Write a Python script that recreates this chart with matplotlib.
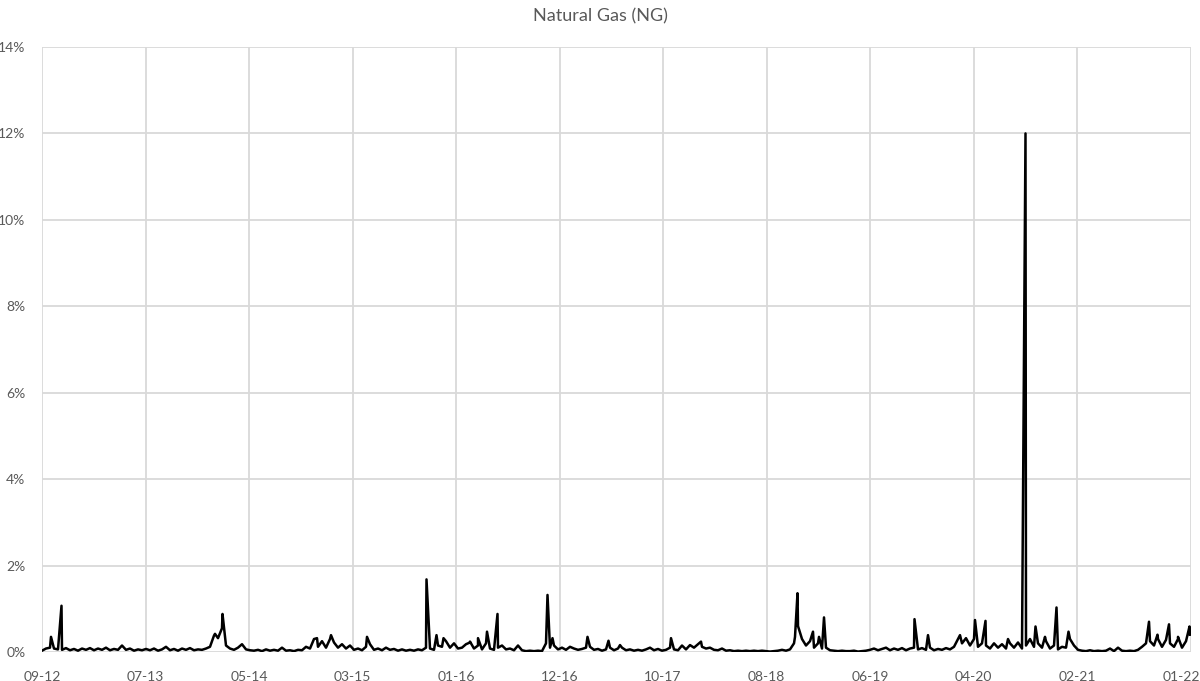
import numpy as np
import matplotlib
matplotlib.use('Agg')
import matplotlib.pyplot as plt
import matplotlib.transforms as mtransforms

plt.rcParams['font.family'] = ['Lato', 'DejaVu Sans']

# x axis: trading-day index, labels every 207 days (category axis, like the Excel original)
tick_labels = ['09-12', '07-13', '05-14', '03-15', '01-16', '12-16',
               '10-17', '08-18', '06-19', '04-20', '02-21', '01-22']
tick_days = [0, 207, 414, 621, 828, 1035, 1242, 1449, 1656, 1863, 2070, 2298]

# background level, one reading every 8 trading days (%)
base_step = 8
base_pct = [
    0.03, 0.08, 0.10, 0.08, 0.06, 0.05, 0.09, 0.04, 0.07, 0.03,
    0.08, 0.05, 0.09, 0.04, 0.08, 0.05, 0.10, 0.04, 0.07, 0.05,
    0.15, 0.05, 0.08, 0.03, 0.06, 0.04, 0.07, 0.04, 0.08, 0.03,
    0.06, 0.12, 0.04, 0.07, 0.03, 0.08, 0.05, 0.09, 0.04, 0.06,
    0.05, 0.08, 0.12, 0.38, 0.32, 0.55, 0.15, 0.08, 0.05, 0.10,
    0.18, 0.06, 0.04, 0.03, 0.05, 0.02, 0.06, 0.03, 0.05, 0.03,
    0.10, 0.03, 0.04, 0.02, 0.05, 0.04, 0.12, 0.08, 0.30, 0.12,
    0.25, 0.10, 0.30, 0.22, 0.10, 0.18, 0.08, 0.15, 0.05, 0.08,
    0.04, 0.12, 0.18, 0.05, 0.08, 0.04, 0.10, 0.05, 0.07, 0.03,
    0.06, 0.03, 0.05, 0.03, 0.06, 0.04, 0.10, 0.08, 0.05, 0.15,
    0.12, 0.25, 0.10, 0.20, 0.08, 0.10, 0.18, 0.22, 0.08, 0.15,
    0.06, 0.20, 0.08, 0.05, 0.10, 0.15, 0.06, 0.08, 0.04, 0.15,
    0.04, 0.02, 0.03, 0.02, 0.03, 0.02, 0.20, 0.10, 0.15, 0.06,
    0.10, 0.05, 0.12, 0.08, 0.05, 0.07, 0.10, 0.12, 0.05, 0.07,
    0.03, 0.06, 0.10, 0.04, 0.08, 0.10, 0.04, 0.06, 0.03, 0.05,
    0.03, 0.06, 0.10, 0.04, 0.07, 0.03, 0.05, 0.10, 0.06, 0.04,
    0.15, 0.06, 0.16, 0.10, 0.18, 0.12, 0.08, 0.10, 0.05, 0.04,
    0.08, 0.03, 0.04, 0.02, 0.03, 0.02, 0.03, 0.02, 0.03, 0.02,
    0.03, 0.02, 0.01, 0.02, 0.03, 0.05, 0.03, 0.06, 0.20, 0.60,
    0.30, 0.15, 0.25, 0.10, 0.20, 0.08, 0.10, 0.04, 0.03, 0.02,
    0.03, 0.02, 0.02, 0.03, 0.01, 0.02, 0.03, 0.05, 0.08, 0.04,
    0.07, 0.10, 0.04, 0.08, 0.05, 0.09, 0.04, 0.08, 0.10, 0.06,
    0.09, 0.05, 0.10, 0.04, 0.07, 0.05, 0.09, 0.06, 0.12, 0.30,
    0.20, 0.32, 0.15, 0.30, 0.12, 0.20, 0.15, 0.08, 0.20, 0.10,
    0.18, 0.08, 0.20, 0.10, 0.22, 0.08, 0.15, 0.30, 0.12, 0.20,
    0.10, 0.25, 0.08, 0.15, 0.06, 0.12, 0.10, 0.30, 0.15, 0.05,
    0.03, 0.02, 0.04, 0.02, 0.03, 0.02, 0.03, 0.08, 0.02, 0.10,
    0.03, 0.02, 0.03, 0.02, 0.05, 0.12, 0.20, 0.25, 0.15, 0.30,
    0.12, 0.28, 0.20, 0.12, 0.30, 0.10, 0.25, 0.40,
]

# single-day jumps (trading-day index, %)
spike_day = [18, 39, 346, 361, 550, 578, 650, 769, 789, 803,
             856, 872, 890, 911, 1011, 1021, 1091, 1133, 1156, 1258,
             1318, 1506, 1511, 1542, 1554, 1564, 1745, 1772, 1836, 1866,
             1887, 1932, 1967, 1987, 2006, 2029, 2053, 2214, 2231, 2254,
             2272, 2295]
spike_pct = [0.35, 1.07, 0.42, 0.88, 0.32, 0.39, 0.35, 1.68, 0.39, 0.32,
             0.24, 0.32, 0.47, 0.88, 1.32, 0.32, 0.35, 0.26, 0.16, 0.32,
             0.24, 0.35, 1.36, 0.47, 0.35, 0.80, 0.76, 0.39, 0.39, 0.74,
             0.72, 0.30, 12.0, 0.59, 0.35, 1.03, 0.47, 0.70, 0.40, 0.64,
             0.35, 0.59]

base_day = np.arange(len(base_pct)) * base_step
day = np.concatenate([base_day, spike_day])
pct = np.concatenate([base_pct, spike_pct])
order = np.argsort(day, kind='stable')
day = day[order]
pct = pct[order]

fig = plt.figure(figsize=(12, 6.81), dpi=100)
ax = fig.add_axes([0.035, 0.0426, 0.9575, 0.8884])

ax.plot(day, pct, color='black', linewidth=1.8, zorder=3)

ax.set_xlim(0, 2298)
ax.set_ylim(0, 14)
ax.set_yticks(range(0, 15, 2))
ax.set_yticklabels([f'{v}%' for v in range(0, 15, 2)])
ax.set_xticks(tick_days)
ax.set_xticklabels(tick_labels)

ax.grid(True, color='#d9d9d9', linewidth=1.3)
ax.set_axisbelow(True)
for s in ax.spines.values():
    s.set_visible(False)
ax.tick_params(axis='both', length=0, colors='#595959', labelsize=10)
ax.tick_params(axis='x', pad=14)
ax.tick_params(axis='y', pad=12)

# last label sits a bit inside the right edge
last = ax.get_xticklabels()[-1]
last.set_transform(last.get_transform() + mtransforms.ScaledTranslation(-0.10, 0, fig.dpi_scale_trans))

fig.text(0.5, 1 - 16 / 681, 'Natural Gas (NG)', ha='center', va='center',
         fontsize=13, color='#595959')

fig.savefig('out.png', dpi=100)
